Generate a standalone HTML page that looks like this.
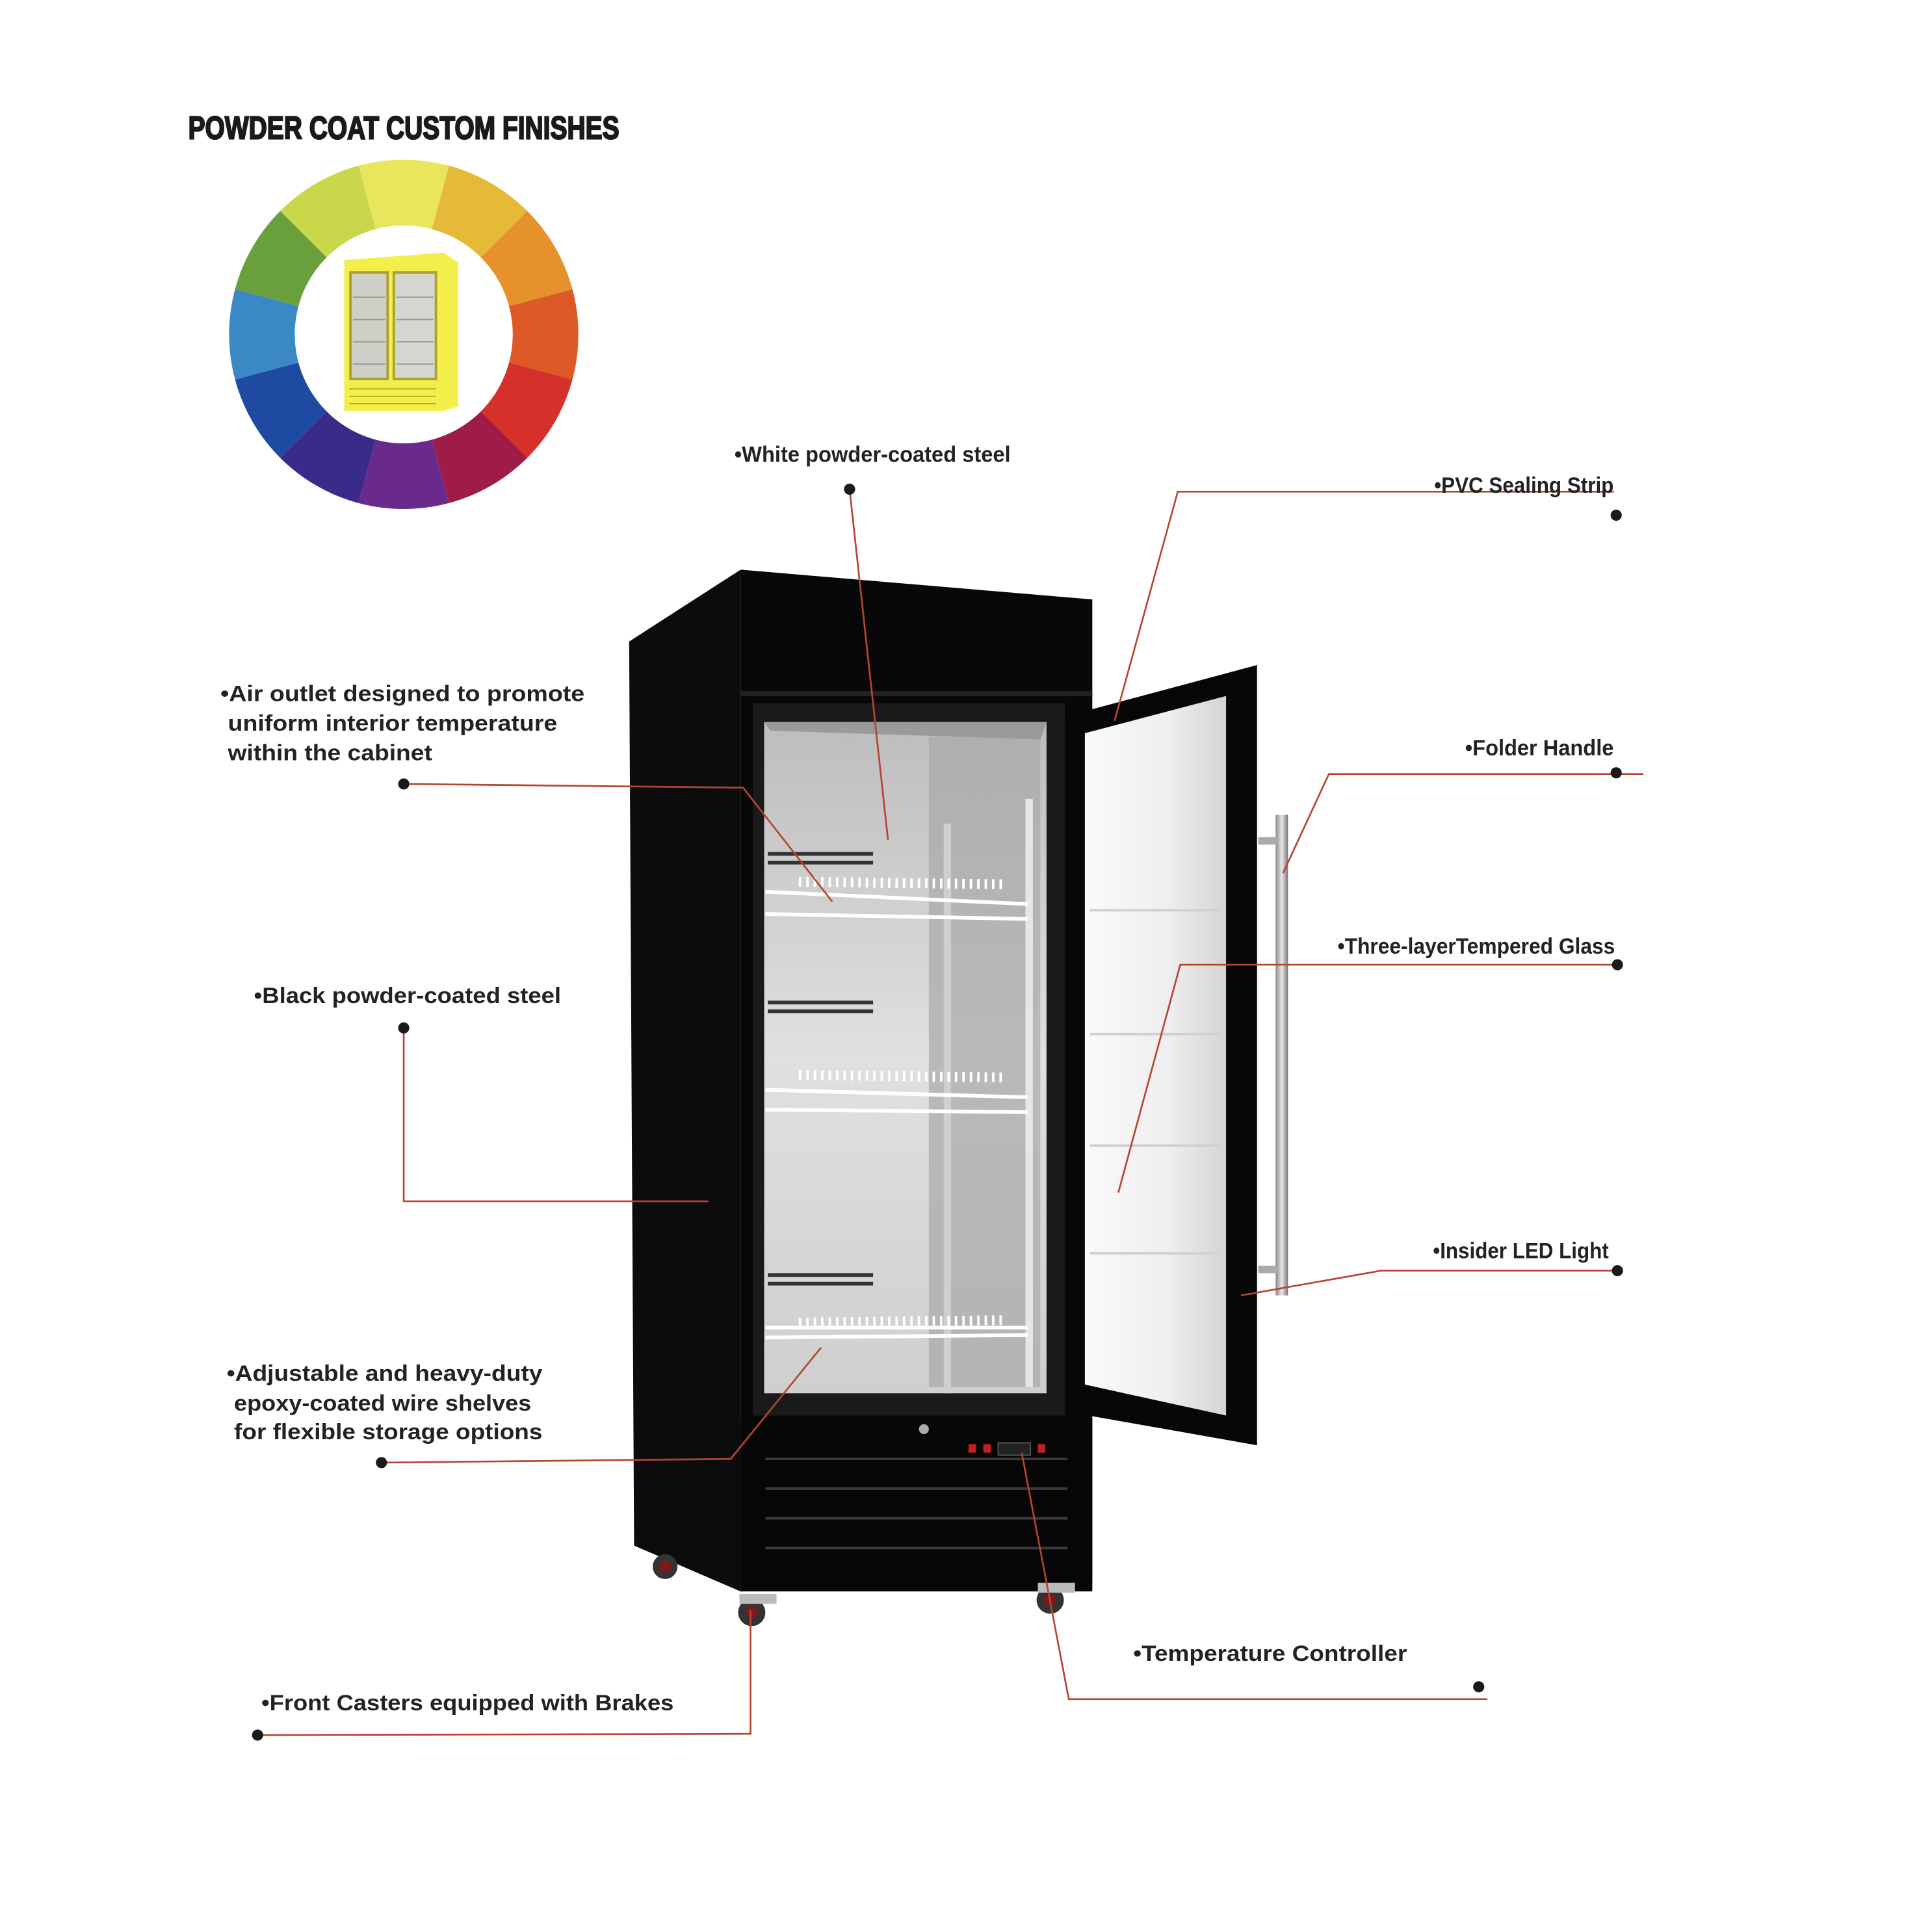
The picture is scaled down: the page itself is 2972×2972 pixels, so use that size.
<!DOCTYPE html>
<html><head><meta charset="utf-8"><style>html,body{margin:0;padding:0;background:#fff}svg{display:block}</style></head>
<body>
<svg width="2972" height="2972" viewBox="0 0 1560 1560" xmlns="http://www.w3.org/2000/svg">
<defs>
<linearGradient id="wall" x1="0" y1="0" x2="0" y2="1"><stop offset="0" stop-color="#bdbdbd"/><stop offset="0.5" stop-color="#e0e0e0"/><stop offset="1" stop-color="#cfcfcf"/></linearGradient>
<linearGradient id="glass" x1="0" y1="0" x2="1" y2="0"><stop offset="0" stop-color="#fafafa"/><stop offset="0.6" stop-color="#eeeeee"/><stop offset="1" stop-color="#d4d4d4"/></linearGradient>
<linearGradient id="rod" x1="0" y1="0" x2="1" y2="0"><stop offset="0" stop-color="#888"/><stop offset="0.5" stop-color="#e8e8e8"/><stop offset="1" stop-color="#777"/></linearGradient>
</defs>
<rect width="1560" height="1560" fill="#fff"/>
<text x="152" y="112" font-family="Liberation Sans, sans-serif" font-weight="bold" font-size="26" textLength="348" lengthAdjust="spacingAndGlyphs" fill="#1a1a1a" stroke="#1a1a1a" stroke-width="1.2">POWDER COAT CUSTOM FINISHES</text>
<g transform="translate(326,270)">
<path d="M0,0 L-36.5,-136.2 A141,141 0 0 1 36.5,-136.2Z" fill="#e9e55c"/>
<path d="M0,0 L36.5,-136.2 A141,141 0 0 1 99.7,-99.7Z" fill="#e6b938"/>
<path d="M0,0 L99.7,-99.7 A141,141 0 0 1 136.2,-36.5Z" fill="#e6922c"/>
<path d="M0,0 L136.2,-36.5 A141,141 0 0 1 136.2,36.5Z" fill="#dd5a28"/>
<path d="M0,0 L136.2,36.5 A141,141 0 0 1 99.7,99.7Z" fill="#d6302a"/>
<path d="M0,0 L99.7,99.7 A141,141 0 0 1 36.5,136.2Z" fill="#a01c48"/>
<path d="M0,0 L36.5,136.2 A141,141 0 0 1 -36.5,136.2Z" fill="#6a2a8c"/>
<path d="M0,0 L-36.5,136.2 A141,141 0 0 1 -99.7,99.7Z" fill="#3a2a8a"/>
<path d="M0,0 L-99.7,99.7 A141,141 0 0 1 -136.2,36.5Z" fill="#1e4aa2"/>
<path d="M0,0 L-136.2,36.5 A141,141 0 0 1 -136.2,-36.5Z" fill="#3a88c4"/>
<path d="M0,0 L-136.2,-36.5 A141,141 0 0 1 -99.7,-99.7Z" fill="#6aa03c"/>
<path d="M0,0 L-99.7,-99.7 A141,141 0 0 1 -36.5,-136.2Z" fill="#c8d84a"/>
<circle r="88" fill="#fff"/>
</g>
<polygon points="278,210 358,204 370,212 370,328 358,332 278,332" fill="#f2ee4a"/>
<rect x="283" y="220" width="30" height="86" fill="#cfcfc8" stroke="#aaa030" stroke-width="2"/>
<rect x="318" y="220" width="34" height="86" fill="#d6d6d0" stroke="#aaa030" stroke-width="2"/>
<g stroke="#999" stroke-width="1"><line x1="285" y1="240" x2="311" y2="240"/><line x1="285" y1="258" x2="311" y2="258"/><line x1="285" y1="276" x2="311" y2="276"/><line x1="285" y1="294" x2="311" y2="294"/><line x1="320" y1="240" x2="350" y2="240"/><line x1="320" y1="258" x2="350" y2="258"/><line x1="320" y1="276" x2="350" y2="276"/><line x1="320" y1="294" x2="350" y2="294"/></g>
<g stroke="#b0aa30" stroke-width="1"><line x1="282" y1="314" x2="352" y2="314"/><line x1="282" y1="320" x2="352" y2="320"/><line x1="282" y1="326" x2="352" y2="326"/></g>

<polygon points="508,518 598,460 598,1285 512,1248" fill="#0c0c0c"/>
<polygon points="598,460 882,484 882,1278 598,1285" fill="#080808"/>
<rect x="598" y="558" width="284" height="4" fill="#222"/>
<rect x="608" y="568" width="252" height="575" fill="#1a1a1a"/>
<rect x="617" y="583" width="228" height="542" fill="url(#wall)"/>
<rect x="750" y="595" width="90" height="525" fill="#a8a8a8" opacity="0.7"/>
<polygon points="617,583 845,583 840,597 622,590" fill="#9a9a9a"/>
<g fill="#333"><rect x="620" y="688" width="85" height="3"/><rect x="620" y="695" width="85" height="3"/><rect x="620" y="808" width="85" height="3"/><rect x="620" y="815" width="85" height="3"/><rect x="620" y="1028" width="85" height="3"/><rect x="620" y="1035" width="85" height="3"/></g>
<rect x="762" y="665" width="6" height="460" fill="#cfcfcf"/>
<rect x="828" y="645" width="6" height="475" fill="#e6e6e6"/>
<g stroke="#fff" stroke-width="3" fill="none">
<path d="M618,720 L830,730 M618,738 L830,742"/><path d="M645,712 L810,714" stroke-dasharray="2 4" stroke-width="8"/>
<path d="M618,880 L830,886 M618,896 L830,898"/><path d="M645,868 L810,870" stroke-dasharray="2 4" stroke-width="8"/>
<path d="M618,1072 L830,1072 M618,1080 L830,1078"/><path d="M645,1068 L810,1066" stroke-dasharray="2 4" stroke-width="8"/>
</g>
<rect x="598" y="1145" width="284" height="140" fill="#060606"/>
<g stroke="#3a3a3a" stroke-width="2"><line x1="618" y1="1178" x2="862" y2="1178"/><line x1="618" y1="1202" x2="862" y2="1202"/><line x1="618" y1="1226" x2="862" y2="1226"/><line x1="618" y1="1250" x2="862" y2="1250"/></g>
<circle cx="746" cy="1154" r="4" fill="#aaa"/>
<g fill="#c02020"><rect x="782" y="1166" width="6" height="7"/><rect x="794" y="1166" width="6" height="7"/><rect x="838" y="1166" width="6" height="7"/></g>
<rect x="806" y="1165" width="26" height="10" fill="#222" stroke="#555"/>
<polygon points="862,578 1015,537 1015,1167 862,1140" fill="#070707"/>
<polygon points="876,592 990,562 990,1143 876,1118" fill="url(#glass)"/>
<g stroke="#d0d0d0" stroke-width="2"><line x1="880" y1="735" x2="985" y2="735"/><line x1="880" y1="835" x2="985" y2="835"/><line x1="880" y1="925" x2="985" y2="925"/><line x1="880" y1="1012" x2="985" y2="1012"/></g>
<rect x="1030" y="658" width="10" height="388" fill="url(#rod)"/>
<rect x="1016" y="676" width="16" height="6" fill="#aaa"/>
<rect x="1016" y="1022" width="16" height="6" fill="#aaa"/>
<g fill="#333"><circle cx="537" cy="1265" r="10"/><circle cx="607" cy="1302" r="11"/><circle cx="848" cy="1292" r="11"/></g>
<g fill="#7a1a1a"><circle cx="537" cy="1265" r="5"/><circle cx="607" cy="1302" r="5"/><circle cx="848" cy="1292" r="5"/></g>
<g fill="#bbb"><rect x="597" y="1287" width="30" height="8"/><rect x="838" y="1278" width="30" height="8"/></g>

<g stroke="#b5452f" stroke-width="1.4" fill="none">
<polyline points="686,395 717,678"/>
<polyline points="900,582 951,397 1303,397"/>
<polyline points="326,633 600,636 672,728"/>
<polyline points="1036,705 1073,625 1327,625"/>
<polyline points="903,963 953,779 1306,779"/>
<polyline points="326,830 326,970 572,970"/>
<polyline points="1002,1046 1115,1026 1306,1026"/>
<polyline points="308,1181 590,1178 663,1088"/>
<polyline points="208,1401 606,1400 606,1300"/>
<polyline points="825,1173 863,1372 1201,1372"/>
</g>
<g fill="#1a1a1a">
<circle cx="686" cy="395" r="4.5"/><circle cx="1305" cy="416" r="4.5"/><circle cx="326" cy="633" r="4.5"/><circle cx="1305" cy="624" r="4.5"/><circle cx="1306" cy="779" r="4.5"/><circle cx="326" cy="830" r="4.5"/><circle cx="1306" cy="1026" r="4.5"/><circle cx="308" cy="1181" r="4.5"/><circle cx="208" cy="1401" r="4.5"/><circle cx="1194" cy="1362" r="4.5"/>
</g>
<g font-family="Liberation Sans, sans-serif" font-weight="bold" font-size="18" fill="#222">
<text x="593" y="373" textLength="223" lengthAdjust="spacingAndGlyphs">•White powder-coated steel</text>
<text x="1158" y="398" textLength="145" lengthAdjust="spacingAndGlyphs">•PVC Sealing Strip</text>
<text x="178" y="566" textLength="294" lengthAdjust="spacingAndGlyphs">•Air outlet designed to promote</text>
<text x="184" y="590" textLength="266" lengthAdjust="spacingAndGlyphs">uniform interior temperature</text>
<text x="184" y="614" textLength="165" lengthAdjust="spacingAndGlyphs">within the cabinet</text>
<text x="1183" y="610" textLength="120" lengthAdjust="spacingAndGlyphs">•Folder Handle</text>
<text x="1080" y="770" textLength="224" lengthAdjust="spacingAndGlyphs">•Three-layerTempered Glass</text>
<text x="205" y="810" textLength="248" lengthAdjust="spacingAndGlyphs">•Black powder-coated steel</text>
<text x="1157" y="1016" textLength="142" lengthAdjust="spacingAndGlyphs">•Insider LED Light</text>
<text x="183" y="1115" textLength="255" lengthAdjust="spacingAndGlyphs">•Adjustable and heavy-duty</text>
<text x="189" y="1139" textLength="240" lengthAdjust="spacingAndGlyphs">epoxy-coated wire shelves</text>
<text x="189" y="1162" textLength="249" lengthAdjust="spacingAndGlyphs">for flexible storage options</text>
<text x="915" y="1341" textLength="221" lengthAdjust="spacingAndGlyphs">•Temperature Controller</text>
<text x="211" y="1381" textLength="333" lengthAdjust="spacingAndGlyphs">•Front Casters equipped with Brakes</text>
</g>
</svg>
</body></html>
